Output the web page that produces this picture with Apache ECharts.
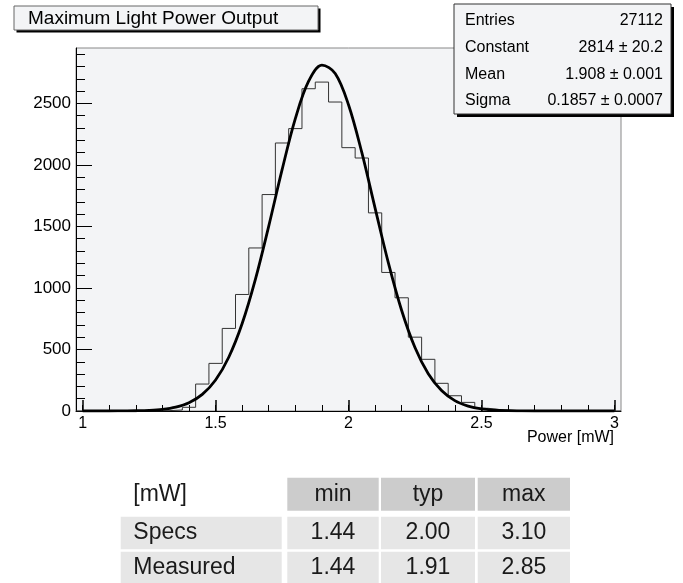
<!DOCTYPE html>
<html>
<head>
<meta charset="utf-8">
<script src="https://cdn.jsdelivr.net/npm/echarts@6/dist/echarts.min.js"></script>
<style>
html,body{margin:0;padding:0;background:#fff;}
#c{width:683px;height:583px;}
</style>
</head>
<body>
<div id="c"></div>
<script>
// ---- data ----
const binCenters = [1.00,1.05,1.10,1.15,1.20,1.25,1.30,1.35,1.40,1.45,1.50,1.55,1.60,1.65,1.70,1.75,1.80,1.85,1.90,1.95,2.00,2.05,2.10,2.15,2.20,2.25,2.30,2.35,2.40,2.45,2.50,2.55,2.60,2.65,2.70,2.75,2.80,2.85,2.90,2.95,3.00];
const binCounts  = [0,0,0,0,0,0,3,8,30,219,387,671,947,1325,1759,2178,2295,2619,2673,2511,2140,2056,1610,1126,920,600,420,225,124,70,22,10,5,2,1,1,1,1,0,0,0];
const binWidth = 0.05;
const fitX = [1.00,1.05,1.10,1.15,1.20,1.25,1.30,1.35,1.40,1.45,1.50,1.55,1.60,1.65,1.70,1.75,1.80,1.85,1.90,1.95,2.00,2.05,2.10,2.15,2.20,2.25,2.30,2.35,2.40,2.45,2.50,2.55,2.60,2.65,2.70,2.75,2.80,2.85,2.90,2.95,3.00];
const fitY = [0,0,0,1,2,5,13,31,67,135,252,439,711,1072,1503,1959,2376,2680,2811,2743,2489,2101,1649,1204,817,516,303,166,84,40,17,7,3,1,0,0,0,0,0,0,0];
const xMajorTicks = [1,1.5,2,2.5,3];
const xMinorTicks = [1.0,1.1,1.2,1.3,1.4,1.5,1.6,1.7,1.8,1.9,2.0,2.1,2.2,2.3,2.4,2.5,2.6,2.7,2.8,2.9,3.0];
const yMajorTicks = [0,500,1000,1500,2000,2500];
const yMinorTicks = [0,100,200,300,400,500,600,700,800,900,1000,1100,1200,1300,1400,1500,1600,1700,1800,1900,2000,2100,2200,2300,2400,2500,2600,2700,2800,2900];
const titleText = 'Maximum Light Power Output';
const xAxisTitle = 'Power [mW]';
const statNames  = ['Entries','Constant','Mean','Sigma'];
const statValues = ['27112','2814 \u00b1 20.2','1.908 \u00b1 0.001','0.1857 \u00b1 0.0007'];
const tableHeader = ['[mW]','min','typ','max'];
const tableRows = [
  ['Specs','1.44','2.00','3.10'],
  ['Measured','1.44','1.91','2.85']
];

// ---- build ----
const histData = binCenters.map((c,i)=>[c - binWidth/2, binCounts[i]]);
histData.push([binCenters[binCenters.length-1] + binWidth/2, binCounts[binCounts.length-1]]);
const fitData = fitX.map((x,i)=>[x, fitY[i]]);

const FONT = 'Liberation Sans, Arial, Helvetica, sans-serif';
const BG = '#f3f4f6';

const graphics = [];
// title box
graphics.push({type:'rect', shape:{x:16.5,y:8.5,width:304,height:24}, style:{fill:'#000'}, z:10});
graphics.push({type:'rect', shape:{x:14,y:6,width:304,height:24}, style:{fill:BG, stroke:'#666', lineWidth:1}, z:11});
graphics.push({type:'text', x:28, y:19, style:{text:titleText, font:'19px '+FONT, fill:'#000', verticalAlign:'middle', align:'left'}, z:12});
// stats box
graphics.push({type:'rect', shape:{x:457,y:7,width:217,height:110}, style:{fill:'#000'}, z:10});
graphics.push({type:'rect', shape:{x:454,y:4,width:217,height:110}, style:{fill:BG, stroke:'#333', lineWidth:1}, z:11});
const statY = [21,48,75,101];
statNames.forEach((n,i)=>{
  graphics.push({type:'text', x:465, y:statY[i], style:{text:n, font:'16px '+FONT, fill:'#000', verticalAlign:'middle', align:'left'}, z:12});
  graphics.push({type:'text', x:663, y:statY[i], style:{text:statValues[i], font:'16px '+FONT, fill:'#000', verticalAlign:'middle', align:'right'}, z:12});
});
// x axis title
graphics.push({type:'text', x:614, y:438, style:{text:xAxisTitle, font:'16px '+FONT, fill:'#000', verticalAlign:'middle', align:'right'}, z:12});
// table
const colX = [120.7, 287.3, 381, 477.7];
const colW = [161, 91.4, 94, 92.3];
const rowY = [477.7, 516.7, 551.7];
const rowH = [33, 32.6, 32];
const allRows = [tableHeader].concat(tableRows);
allRows.forEach((row,r)=>{
  row.forEach((cell,c)=>{
    if (!(r===0 && c===0)) {
      graphics.push({type:'rect', shape:{x:colX[c], y:rowY[r], width:colW[c], height:rowH[r]}, style:{fill: r===0 ? '#cccccc' : '#e6e6e6'}, z:5});
    }
    graphics.push({type:'text',
      x: c===0 ? colX[c]+12.6 : colX[c]+colW[c]/2,
      y: rowY[r]+rowH[r]/2,
      style:{text:cell, font:'23px '+FONT, fill:'#1a1a1a', verticalAlign:'middle', align: c===0 ? 'left' : 'center'}, z:6});
  });
});

const xBase = {type:'value', min:0.975, max:3.025, gridIndex:0, position:'bottom'};
const yBase = {type:'value', min:0, max:2950, gridIndex:0, position:'left'};

const option = {
  animation:false,
  backgroundColor:'#fff',
  grid:{left:76, right:62, top:48, bottom:172, show:true, backgroundColor:BG, borderColor:'#888', borderWidth:1},
  xAxis:[
    Object.assign({}, xBase, {
      axisLine:{show:true, onZero:false, lineStyle:{color:'#000', width:1}},
      axisTick:{show:true, inside:true, length:11, customValues:xMajorTicks, lineStyle:{color:'#000', width:1.5}},
      axisLabel:{show:true, customValues:xMajorTicks, margin:5, color:'#000', fontSize:16, fontFamily:FONT, formatter:(v)=>String(v)},
      splitLine:{show:false}
    }),
    Object.assign({}, xBase, {
      axisLine:{show:false, onZero:false},
      axisTick:{show:true, inside:true, length:6, customValues:xMinorTicks, lineStyle:{color:'#000', width:1}},
      axisLabel:{show:false},
      splitLine:{show:false}
    })
  ],
  yAxis:[
    Object.assign({}, yBase, {
      axisLine:{show:true, onZero:false, lineStyle:{color:'#000', width:1}},
      axisTick:{show:true, inside:true, length:16, customValues:yMajorTicks, lineStyle:{color:'#000', width:1}},
      axisLabel:{show:true, customValues:yMajorTicks, margin:5, color:'#000', fontSize:17, fontFamily:FONT, formatter:(v)=>String(v)},
      splitLine:{show:false}
    }),
    Object.assign({}, yBase, {
      offset:0,
      axisLine:{show:false, onZero:false},
      axisTick:{show:true, inside:true, length:9, customValues:yMinorTicks, lineStyle:{color:'#000', width:1}},
      axisLabel:{show:false},
      splitLine:{show:false}
    })
  ],
  series:[
    {type:'line', name:'hist', xAxisIndex:0, yAxisIndex:0, data:histData, step:'end', symbol:'none',
     lineStyle:{color:'#333', width:1}, z:3},
    {type:'line', name:'fit', xAxisIndex:0, yAxisIndex:0, data:fitData, smooth:0.35, symbol:'none',
     lineStyle:{color:'#000', width:2.8}, z:4}
  ],
  graphic: graphics
};
const chart = echarts.init(document.getElementById('c'), null, {renderer:'canvas'});
chart.setOption(option);
</script>
</body>
</html>
